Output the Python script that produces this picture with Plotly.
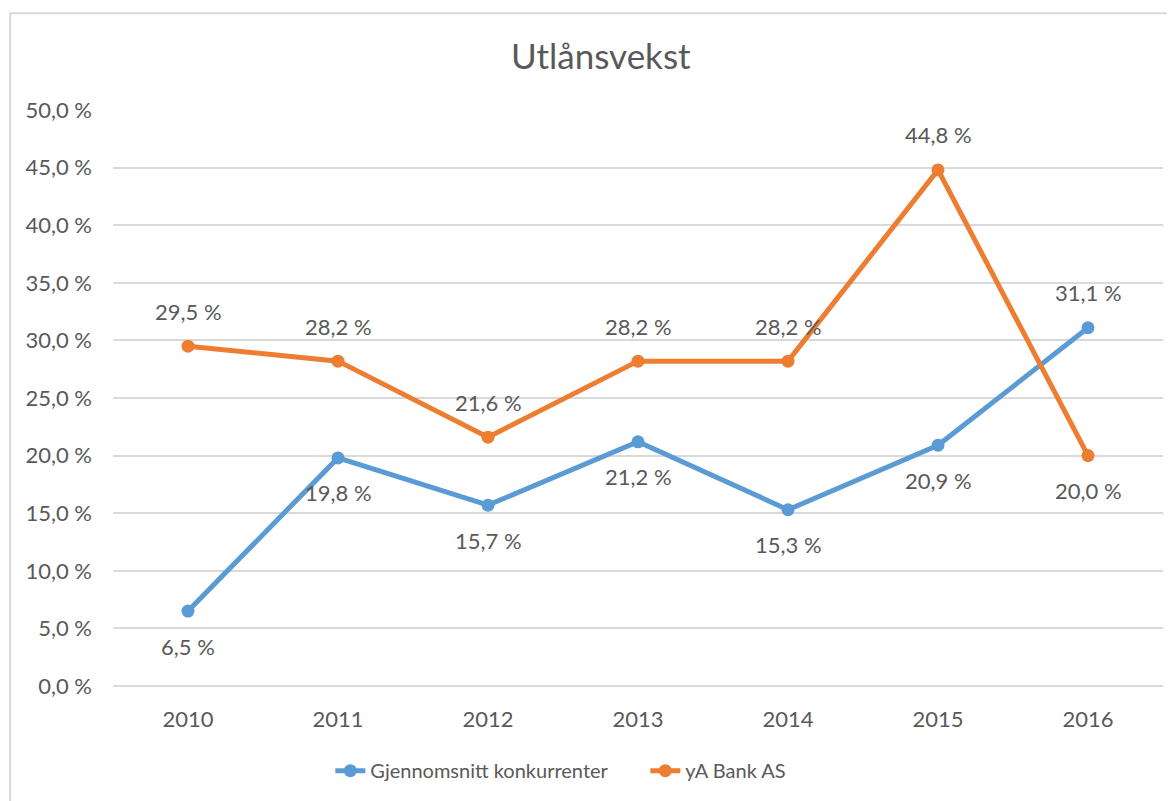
import plotly.graph_objects as go

years = ["2010", "2011", "2012", "2013", "2014", "2015", "2016"]
snitt = [6.5, 19.8, 15.7, 21.2, 15.3, 20.9, 31.1]
bank = [29.5, 28.2, 21.6, 28.2, 28.2, 44.8, 20.0]
# label above (+1) or below (-1) the point
snitt_side = [-1, -1, -1, -1, -1, -1, 1]
bank_side = [1, 1, 1, 1, 1, 1, -1]

blue = "#5b9bd5"
orange = "#ed7d31"
txt = "#595959"
grid = "#d9d9d9"
font = "Lato"


def fmt(v):
    return f"{v:.1f}".replace(".", ",") + " %"


fig = go.Figure()
fig.add_trace(go.Scatter(
    x=years, y=snitt, name="Gjennomsnitt konkurrenter",
    mode="lines+markers",
    line=dict(color=blue, width=5),
    marker=dict(color=blue, size=13),
))
fig.add_trace(go.Scatter(
    x=years, y=bank, name="yA Bank AS",
    mode="lines+markers",
    line=dict(color=orange, width=5),
    marker=dict(color=orange, size=13),
))

# data labels, Excel style (category axis -> use category index)
for vals, sides in ((snitt, snitt_side), (bank, bank_side)):
    for i, (v, s) in enumerate(zip(vals, sides)):
        fig.add_annotation(
            x=i, y=v, text=fmt(v), showarrow=False,
            yshift=35 * s, font=dict(family=font, size=22, color=txt),
        )

# chart area border (only left and top edges are visible in the crop)
fig.add_shape(
    type="path", xref="paper", yref="paper",
    path="M -0.098,-0.3 L -0.098,1.168 L 1.4,1.168",
    line=dict(color=grid, width=2),
    layer="below",
)

fig.update_layout(
    width=1167, height=793,
    margin=dict(l=105, r=12, t=102, b=114),
    paper_bgcolor="white", plot_bgcolor="white",
    separators=", ",
    font=dict(family=font, size=22, color=txt),
    title=dict(text="Utlånsvekst", x=0.508, xanchor="center",
               y=0.938, yanchor="middle",
               font=dict(family=font, size=35, color=txt)),
    legend=dict(orientation="h", x=0.507, xanchor="center",
                y=-0.145, yanchor="middle",
                entrywidth=270,
                font=dict(family=font, size=20, color=txt)),
    showlegend=True,
)
fig.update_xaxes(
    type="category", range=[-0.5, len(years) - 0.5],
    showgrid=False, showline=False, ticks="",
    ticklabelstandoff=18,
    tickfont=dict(family=font, size=22, color=txt),
)
fig.update_yaxes(
    range=[0, 50], dtick=5, tickformat=".1f", ticksuffix=" %",
    showgrid=True, gridcolor=grid, gridwidth=1.5,
    zeroline=True, zerolinecolor=grid, zerolinewidth=1.5,
    showline=False, ticks="", ticklabelstandoff=20,
    tickfont=dict(family=font, size=22, color=txt),
)

fig.write_html("out.html")
